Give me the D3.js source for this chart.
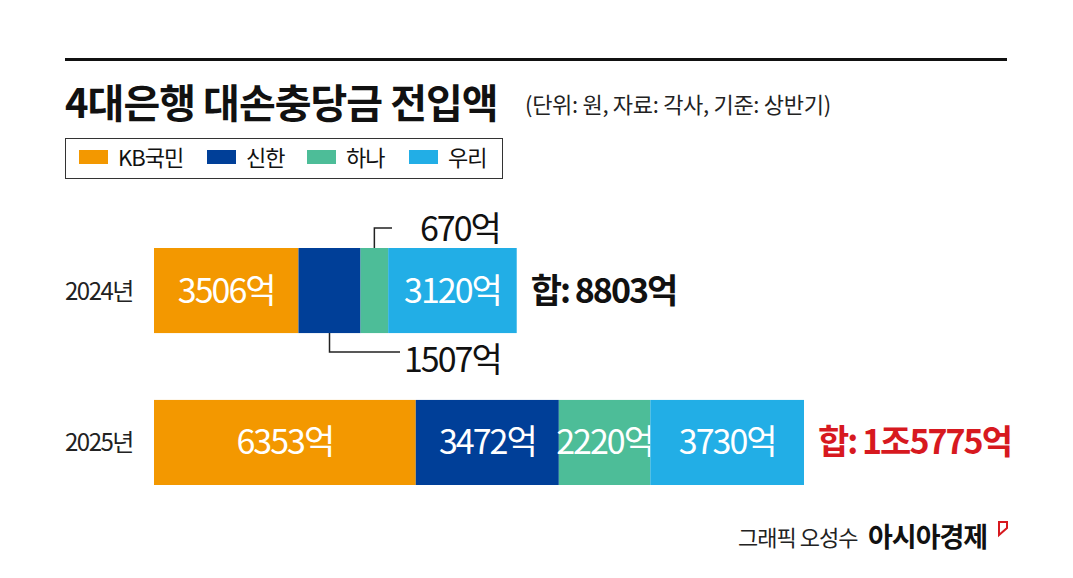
<!DOCTYPE html>
<html><head><meta charset="utf-8">
<script src="https://cdn.jsdelivr.net/npm/d3@7"></script>
<style>body{margin:0;background:#fff}text{font-family:"Noto Sans CJK KR","Noto Sans",sans-serif}</style>
</head><body><svg id="c" width="1073" height="578"></svg>
<script>
var years = ['2024년', '2025년'];
var banks = ['KB국민', '신한', '하나', '우리'];
var colors = ['#F39800', '#003F98', '#4DBD98', '#22AEE6'];
var v2024 = [3506, 1507, 670, 3120];
var v2025 = [6353, 3472, 2220, 3730];
var totals = ['합: 8803억', '합: 1조5775억'];
var totalColors = ['#111', '#D7191F'];
var series = [v2024, v2025];

var svg = d3.select('#c');
svg.append('rect').attr('x', 65).attr('y', 58).attr('width', 942).attr('height', 3).attr('fill', '#111');
svg.append('text').attr('x', 65).attr('y', 118).attr('font-size', 40).attr('font-weight', 700).attr('letter-spacing', -1).attr('fill', '#111').text('4대은행 대손충당금 전입액');
svg.append('text').attr('x', 525).attr('y', 113).attr('font-size', 22).attr('letter-spacing', -0.3).attr('fill', '#222').text('(단위: 원, 자료: 각사, 기준: 상반기)');

// legend
svg.append('rect').attr('x', 65.5).attr('y', 138.5).attr('width', 437).attr('height', 40).attr('fill', 'none').attr('stroke', '#333');
var lx = [79, 207, 307, 409];
banks.forEach(function (b, i) {
  svg.append('rect').attr('x', lx[i]).attr('y', 150).attr('width', 29).attr('height', 14).attr('fill', colors[i]);
  svg.append('text').attr('x', lx[i] + 39).attr('y', 166).attr('font-size', 22).attr('fill', '#111').attr('letter-spacing', -1).text(b);
});

var x = d3.scaleLinear().domain([0, 15775]).range([154, 804]);
var y = d3.scaleBand().domain(years).range([248, 485]).paddingInner(0.44).paddingOuter(0);

years.forEach(function (yr, r) {
  var vals = series[r], acc = 0;
  var g = svg.append('g');
  g.append('text').attr('x', 65).attr('y', y(yr) + y.bandwidth() / 2 + 9).attr('font-size', 24).attr('letter-spacing', -1.5).attr('fill', '#222').text(yr);
  vals.forEach(function (v, i) {
    var x0 = x(acc), x1 = x(acc + v);
    g.append('rect').attr('x', x0).attr('y', y(yr)).attr('width', x1 - x0).attr('height', y.bandwidth()).attr('fill', colors[i]);
    var inside = !(r == 0 && (i == 1 || i == 2));
    if (inside) g.append('text').attr('x', (x0 + x1) / 2).attr('y', y(yr) + y.bandwidth() / 2 + 12).attr('text-anchor', 'middle')
      .attr('font-size', 34).attr('letter-spacing', -2).attr('fill', '#fff').text(d3.format('d')(v) + '억');
    acc += v;
  });
  g.append('text').attr('x', x(acc) + 14).attr('y', y(yr) + y.bandwidth() / 2 + 12).attr('font-size', 34).attr('font-weight', 700)
    .attr('letter-spacing', -2).attr('fill', totalColors[r]).text(totals[r]);
});

// callouts for 2024 small segments
var barTop = y('2024년'), barBot = barTop + y.bandwidth();
var cG = (x(v2024[0] + v2024[1]) + x(v2024[0] + v2024[1] + v2024[2])) / 2;
var cN = (x(v2024[0]) + x(v2024[0] + v2024[1])) / 2;
svg.append('path').attr('d', 'M' + cG + ',' + barTop + 'V228H392').attr('fill', 'none').attr('stroke', '#222').attr('stroke-width', 1.5);
svg.append('text').attr('x', 420).attr('y', 241).attr('font-size', 34).attr('letter-spacing', -2).attr('fill', '#111').text(v2024[2] + '억');
svg.append('path').attr('d', 'M' + cN + ',' + barBot + 'V352H400').attr('fill', 'none').attr('stroke', '#222').attr('stroke-width', 1.5);
svg.append('text').attr('x', 404).attr('y', 372).attr('font-size', 34).attr('letter-spacing', -2).attr('fill', '#111').text(v2024[1] + '억');

// footer
svg.append('text').attr('x', 738).attr('y', 546).attr('font-size', 22).attr('letter-spacing', -1).attr('fill', '#222').text('그래픽 오성수');
svg.append('text').attr('x', 868).attr('y', 547).attr('font-size', 27).attr('font-weight', 700).attr('letter-spacing', -1).attr('fill', '#111').text('아시아경제');
svg.append('path').attr('d', 'M999,522V535L1007,528V522Z').attr('fill', 'none').attr('stroke', '#D7191F').attr('stroke-width', 2);
</script></body></html>
